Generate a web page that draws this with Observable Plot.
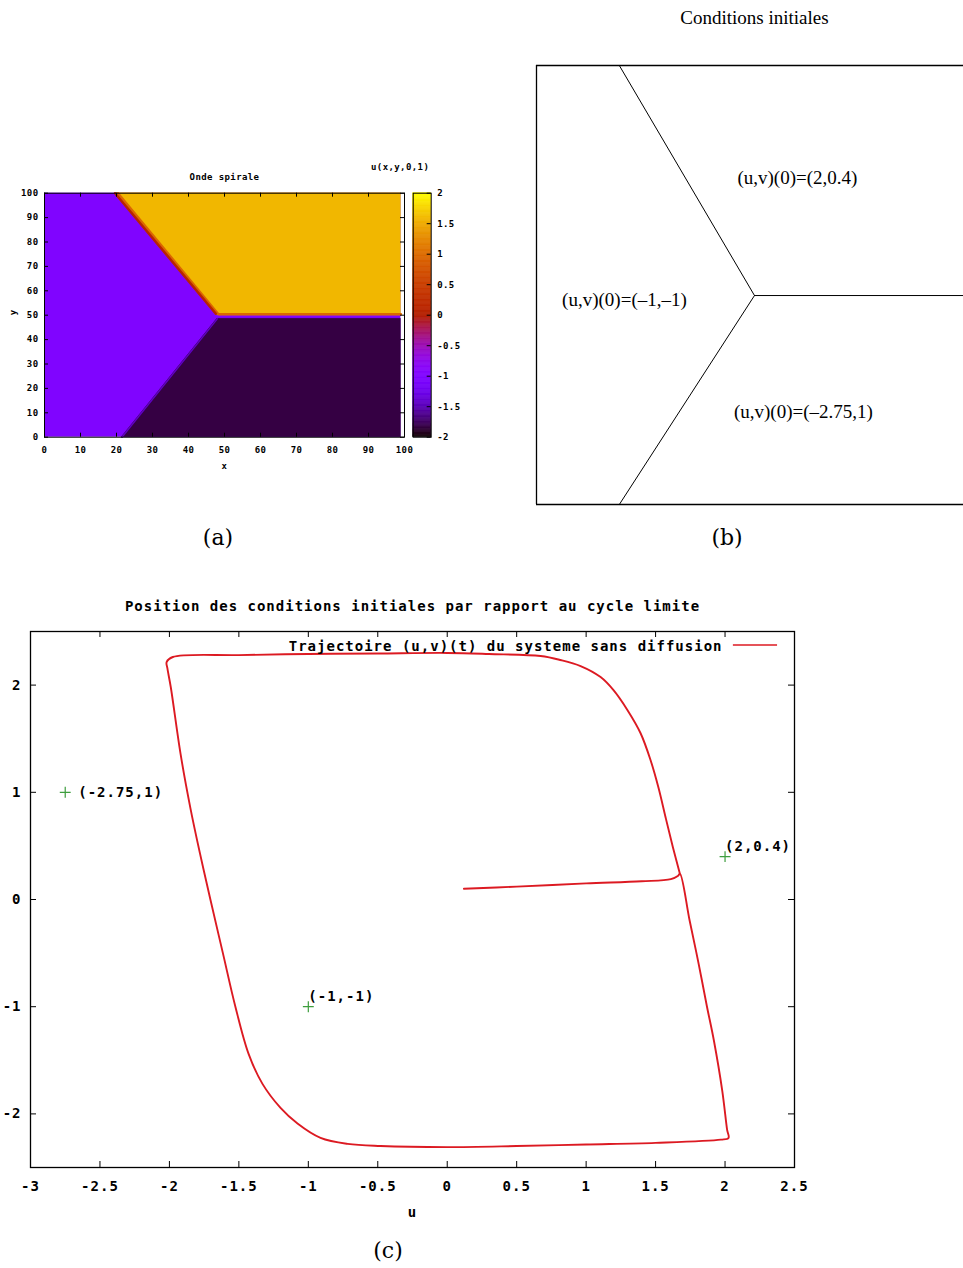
<!DOCTYPE html>
<html>
<head>
<meta charset="utf-8">
<script src="https://cdn.jsdelivr.net/npm/d3@7"></script>
<script src="https://cdn.jsdelivr.net/npm/@observablehq/plot@0.6"></script>
<style>
  html, body { margin: 0; padding: 0; background: #fff; }
  body { width: 963px; height: 1268px; position: relative; overflow: hidden; }
  .pane { position: absolute; }
  .pane svg { display: block; overflow: visible; }
  .cap { position: absolute; font-family: "DejaVu Serif", "Liberation Serif", serif; font-size: 22px;
         transform: translate(-50%, -50%); color: #000; }
</style>
</head>
<body>
<div id="pa" class="pane" style="left:0px;top:150px;width:410px"></div>
<div id="pcb" class="pane" style="left:400px;top:150px;width:60px"></div>
<div id="pb" class="pane" style="left:520px;top:0px;width:443px"></div>
<div id="pc" class="pane" style="left:0px;top:590px;width:963px"></div>
<div class="cap" style="left:218px;top:537px">(a)</div>
<div class="cap" style="left:727px;top:537px">(b)</div>
<div class="cap" style="left:388px;top:1250px">(c)</div>
<script>
// ---------- (a) heatmap "Onde spirale": u(x,y,0.1) ----------
const uLeft = -1.0;      // purple region
const uTop = 1.58;       // yellow/orange region
const uBottom = -1.83;   // dark region
const uFrontRed = 0.1;   // front colours along the upper boundary
const uFrontOrange = 0.95;
const uFrontLow = -1.45;
// region edges (x, y) on the 100x100 grid
const topUpperEdge = [[20, 100], [60, 100], [99, 100]];
const topLowerEdge = [[20, 100], [48, 50], [99, 50]];
const bottomUpperEdge = [[21.5, 0], [48, 48.5], [99, 48.5]];
const bottomLowerEdge = [[21.5, 0], [60, 0], [99, 0]];
const frontOrange = [[20.4, 100], [48.3, 50.4], [99, 50.4]];
const frontRed = [[19.6, 100], [47.6, 50.6]];
const frontLow = [[21.5, 0], [48, 48.5]];
const gridTicks = [0, 10, 20, 30, 40, 50, 60, 70, 80, 90, 100];
const cbTicks = [-2, -1.5, -1, -0.5, 0, 0.5, 1, 1.5, 2];

// ---------- (b) initial-condition diagram ----------
const bSeparators = [
  [[19.4, 100], [51.05, 47.6]],
  [[51.05, 47.6], [100, 47.6]],
  [[51.05, 47.6], [19.4, 0]]
];
const bLabels = ["(u,v)(0)=(2,0.4)", "(u,v)(0)=(\u20131,\u20131)", "(u,v)(0)=(\u20132.75,1)"];
const bLabelX = [61.1, 20.6, 62.5];
const bLabelY = [74.3, 46.7, 21.0];

// ---------- (c) limit cycle ----------
const trajU = [0.12, 0.5, 1.0, 1.4, 1.61, 1.66, 1.675,
  1.745, 1.81, 1.87, 1.92, 1.98, 2.015, 2.025, 1.97,
  1.5, 1.0, 0.5, 0.0, -0.48, -0.717, -0.912, -1.078, -1.2, -1.33, -1.43, -1.525, -1.615, -1.705,
  -1.78, -1.85, -1.92, -1.99, -2.015, -2.02, -1.975,
  -1.5, -1.0, -0.5, 0.0, 0.3, 0.672, 0.816, 0.96, 1.104, 1.197, 1.298, 1.392, 1.464, 1.52, 1.575, 1.625, 1.675];
const trajV = [0.10, 0.12, 0.15, 0.17, 0.19, 0.22, 0.24,
  -0.196, -0.6, -1.0, -1.318, -1.785, -2.15, -2.224, -2.24,
  -2.27, -2.285, -2.30, -2.31, -2.30, -2.28, -2.224, -2.09, -1.944, -1.72, -1.44, -1.0, -0.5, 0.0,
  0.43, 0.86, 1.36, 1.98, 2.16, 2.215, 2.262,
  2.28, 2.29, 2.295, 2.30, 2.29, 2.271, 2.234, 2.178, 2.075, 1.953, 1.766, 1.551, 1.299, 1.047, 0.75, 0.486, 0.24];
const icU = [-2.75, 2, -1];
const icV = [1, 0.4, -1];
const icLabels = ["(-2.75,1)", "(2,0.4)", "(-1,-1)"];
const cXTicks = [-3, -2.5, -2, -1.5, -1, -0.5, 0, 0.5, 1, 1.5, 2, 2.5];
const cYTicks = [-2, -1, 0, 1, 2];

// gnuplot default palette (rgbformulae 7,5,15)
const gpPalette = t => {
  t = Math.max(0, Math.min(1, t));
  return d3.rgb(255 * Math.sqrt(t), 255 * t * t * t, 255 * Math.max(0, Math.sin(2 * Math.PI * t))).formatHex();
};
const colorOpts = { type: "linear", domain: [-2, 2], interpolate: gpPalette };

const monoA = { fontFamily: "DejaVu Sans Mono", fontWeight: "bold", fontSize: "9px", letterSpacing: "0.4px", background: "transparent", overflow: "visible" };

function polyArea(upper, lower, u) {
  const data = upper.map((p, i) => ({ x1: p[0], y1: p[1], x2: lower[i][0], y2: lower[i][1], u }));
  return Plot.area(data, { x1: "x1", y1: "y1", x2: "x2", y2: "y2", fill: "u", stroke: "u", strokeWidth: 0.5 });
}
function edgeLine(pts, u, w) {
  return Plot.line(pts.map(p => ({ x: p[0], y: p[1], u })), { x: "x", y: "y", stroke: "u", strokeWidth: w });
}

// ---- panel (a)
{
  const W = 410, H = 330, mL = 44, mR = 6, mT = 42.7, mB = 43.3;
  const tlx = 4 * 100 / (W - mL - mR), tly = 4 * 100 / (H - mT - mB);
  const chart = Plot.plot({
    width: W, height: H, marginLeft: mL, marginRight: mR, marginTop: mT, marginBottom: mB,
    x: { domain: [0, 100], label: null },
    y: { domain: [0, 100], label: null },
    color: colorOpts,
    style: monoA,
    marks: [
      Plot.rect([{ u: uLeft }], { x1: () => 0, x2: () => 99, y1: () => 0, y2: () => 100, fill: "u" }),
      polyArea(topUpperEdge, topLowerEdge, uTop),
      polyArea(bottomUpperEdge, bottomLowerEdge, uBottom),
      edgeLine(frontLow, uFrontLow, 1.5),
      edgeLine(frontOrange, uFrontOrange, 2.5),
      edgeLine(frontRed, uFrontRed, 2.5),
      Plot.frame({ stroke: "#000", strokeWidth: 1 }),
      Plot.ruleX(gridTicks, { x: d => d, y1: 0, y2: tly, stroke: "#000" }),
      Plot.ruleX(gridTicks, { x: d => d, y1: 100 - tly, y2: 100, stroke: "#000" }),
      Plot.ruleY(gridTicks, { y: d => d, x1: 0, x2: tlx, stroke: "#000" }),
      Plot.ruleY(gridTicks, { y: d => d, x1: 100 - tlx, x2: 100, stroke: "#000" }),
      Plot.axisX({ ticks: gridTicks, tickSize: 0, tickPadding: 9, tickFormat: d => String(d), label: null }),
      Plot.axisY({ ticks: gridTicks, tickSize: 0, tickPadding: 6, tickFormat: d => String(d), label: null }),
      Plot.text(["Onde spirale"], { text: d => d, frameAnchor: "top", dy: -20 }),
      Plot.text(["x"], { text: d => d, frameAnchor: "bottom", dy: 32 }),
      Plot.text(["y"], { text: d => d, frameAnchor: "left", dx: -31, rotate: -90 })
    ]
  });
  document.getElementById("pa").appendChild(chart);
}

// ---- colour bar
{
  const W = 60, H = 330, mL = 12.7, mR = 29.3, mT = 42.7, mB = 43.3;
  const step = 0.02;
  const levels = d3.range(-2, 2, step);
  const tlx = 4 / (W - mL - mR);
  const chart = Plot.plot({
    width: W, height: H, marginLeft: mL, marginRight: mR, marginTop: mT, marginBottom: mB,
    x: { domain: [0, 1], axis: null },
    y: { domain: [-2, 2], label: null },
    color: colorOpts,
    style: monoA,
    marks: [
      Plot.rect(levels, { x1: () => 0, x2: () => 1, y1: d => d, y2: d => d + step, fill: d => d + step / 2, stroke: d => d + step / 2, strokeWidth: 0.6 }),
      Plot.frame({ stroke: "#000", strokeWidth: 1 }),
      Plot.ruleY(cbTicks, { y: d => d, x1: 1 - tlx, x2: 1, stroke: "#000" }),
      Plot.axisY({ anchor: "right", ticks: cbTicks, tickSize: 0, tickPadding: 6, tickFormat: d => String(d), label: null }),
      Plot.text(["u(x,y,0,1)"], { text: d => d, frameAnchor: "top-right", textAnchor: "end", dy: -30, dx: -2 })
    ]
  });
  document.getElementById("pcb").appendChild(chart);
}

// ---- panel (b)
{
  const chart = Plot.plot({
    width: 443, height: 520, marginLeft: 16, marginRight: 0, marginTop: 65, marginBottom: 16,
    x: { domain: [0, 100], axis: null },
    y: { domain: [0, 100], axis: null },
    style: { fontFamily: "Liberation Serif", fontSize: "19px", background: "transparent", overflow: "visible" },
    marks: [
      Plot.ruleY([0, 100], { y: d => d, x1: 0, x2: 100, stroke: "#000", strokeWidth: 1.3 }),
      Plot.ruleX([0], { x: d => d, y1: 0, y2: 100, stroke: "#000", strokeWidth: 1.3 }),
      ...bSeparators.map(seg => Plot.line(seg, { x: d => d[0], y: d => d[1], stroke: "#000", strokeWidth: 1 })),
      Plot.text(bLabels, { x: (d, i) => bLabelX[i], y: (d, i) => bLabelY[i], text: d => d }),
      Plot.text(["Conditions initiales"], { text: d => d, x: () => 51.05, frameAnchor: "top", dy: -55 })
    ]
  });
  document.getElementById("pb").appendChild(chart);
}

// ---- panel (c)
{
  const W = 963, H = 640, mL = 30, mR = 169, mT = 41, mB = 63;
  const tlY = 6 * 5 / (H - mT - mB), tlX = 6 * 5.5 / (W - mL - mR);
  const traj = trajU.map((u, i) => ({ u, v: trajV[i] }));
  const ics = icU.map((u, i) => ({ u, v: icV[i], label: icLabels[i] }));
  const red = "#dc1a22", green = "#3e9e3e";
  const chart = Plot.plot({
    width: W, height: H, marginLeft: mL, marginRight: mR, marginTop: mT, marginBottom: mB,
    x: { domain: [-3, 2.5], label: null },
    y: { domain: [-2.5, 2.5], label: null },
    style: { fontFamily: "DejaVu Sans Mono", fontWeight: "bold", fontSize: "14px", letterSpacing: "1px", background: "transparent", overflow: "visible" },
    marks: [
      Plot.frame({ stroke: "#000", strokeWidth: 1.3 }),
      Plot.ruleX(cXTicks, { x: d => d, y1: -2.5, y2: -2.5 + tlY, stroke: "#000" }),
      Plot.ruleX(cXTicks, { x: d => d, y1: 2.5 - tlY, y2: 2.5, stroke: "#000" }),
      Plot.ruleY(cYTicks, { y: d => d, x1: -3, x2: -3 + tlX, stroke: "#000" }),
      Plot.ruleY(cYTicks, { y: d => d, x1: 2.5 - tlX, x2: 2.5, stroke: "#000" }),
      Plot.axisX({ ticks: cXTicks, tickSize: 0, tickPadding: 14, tickFormat: d => String(d), label: null }),
      Plot.axisY({ ticks: cYTicks, tickSize: 0, tickPadding: 9, tickFormat: d => String(d), label: null }),
      Plot.line(traj, { x: "u", y: "v", stroke: red, strokeWidth: 1.9, curve: "catmull-rom" }),
      Plot.dot(ics, { x: "u", y: "v", symbol: "plus", r: 3.6, stroke: green, strokeWidth: 1.2 }),
      Plot.text(ics.slice(0, 1), { x: "u", y: "v", text: "label", textAnchor: "start", dx: 13 }),
      Plot.text(ics.slice(1), { x: "u", y: "v", text: "label", textAnchor: "start", dx: 0, dy: -10 }),
      Plot.text(["Position des conditions initiales par rapport au cycle limite"], { text: d => d, frameAnchor: "top", dy: -30 }),
      Plot.text(["Trajectoire (u,v)(t) du systeme sans diffusion"], { text: d => d, frameAnchor: "top-right", textAnchor: "end", dx: -72, dy: 10 }),
      Plot.ruleY([2.374], { y: d => d, x1: 2.06, x2: 2.378, stroke: red, strokeWidth: 1.5 }),
      Plot.text(["u"], { text: d => d, frameAnchor: "bottom", dy: 49 })
    ]
  });
  document.getElementById("pc").appendChild(chart);
}
</script>
</body>
</html>
